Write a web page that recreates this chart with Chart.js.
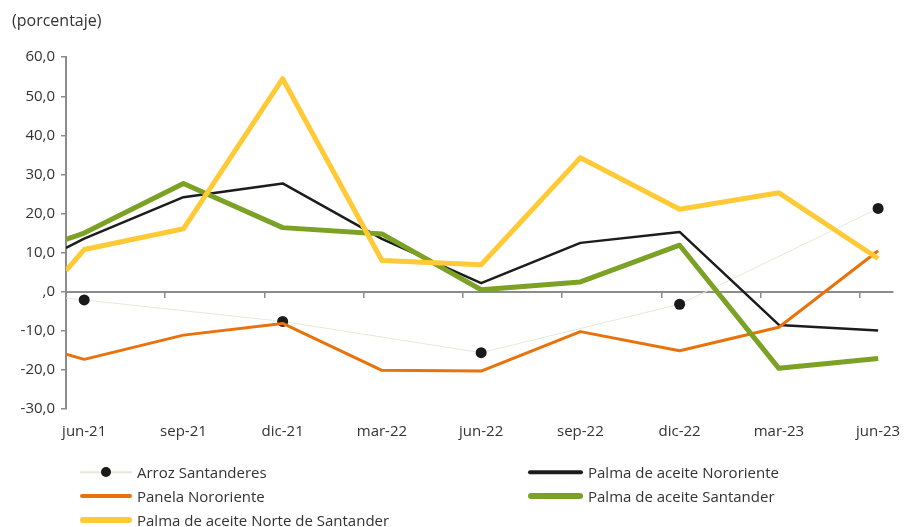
<!DOCTYPE html>
<html>
<head>
  <title>Precios - porcentaje</title>
  <script src="https://cdn.jsdelivr.net/npm/chart.js"></script>
  <style>
    body { margin: 0; background: #fff; font-family: 'Open Sans', sans-serif; }
    #wrap { position: relative; width: 904px; height: 527px; }
    #leyenda { position: absolute; left: 0; top: 0; width: 904px; height: 527px; pointer-events: none; }
    .item { position: absolute; display: flex; align-items: center; font-size: 15px; color: #333; height: 22px; white-space: nowrap; }
    .muestra { position: relative; margin-right: 5px; }
    .muestra .linea { position: absolute; left: 0; right: 0; top: 50%; transform: translateY(-50%); border-radius: 3px; }
    .muestra .punto { position: absolute; left: 50%; top: 50%; width: 10px; height: 10px; margin: -5px 0 0 -5px; border-radius: 50%; background: #1a1a1a; }
  </style>
</head>
<body>
  <div id="wrap">
    <canvas id="chart" width="904" height="527"></canvas>
    <div id="leyenda"></div>
  </div>

  <script>
    // meses contados desde jun-21 (el primer dato cae un poco antes)
    const meses = [-0.55, 0, 3, 6, 9, 12, 15, 18, 21, 24];
    const etiquetas = ['jun-21', 'sep-21', 'dic-21', 'mar-22', 'jun-22', 'sep-22', 'dic-22', 'mar-23', 'jun-23'];
    const posEtiquetas = [0, 3, 6, 9, 12, 15, 18, 21, 24];
    const posMarcas = [-0.55, 2.45, 5.45, 8.45, 11.45, 14.45, 17.45, 20.45, 23.45];

    const arrozSantanderes = [-1.6, -2.1, null, -7.6, null, -15.6, null, -3.2, null, 21.3];
    const palmaNororiente = [11.2, 13.6, 24.2, 27.7, 13.5, 2.2, 12.5, 15.3, -8.5, -9.9];
    const panelaNororiente = [-16.0, -17.3, -11.1, -8.1, -20.1, -20.3, -10.2, -15.1, -9.1, 10.5];
    const palmaSantander = [13.4, 15.0, 27.7, 16.4, 14.8, 0.5, 2.5, 11.9, -19.6, -17.1];
    const palmaNorteSantander = [5.4, 10.8, 16.1, 54.5, 8.0, 6.9, 34.3, 21.1, 25.3, 8.5];

    const xMin = -0.55, xMax = 24.45;
    const gris = '#8c8c8c';
    const texto = '#333333';

    const puntos = vals => vals.map((v, i) => ({ x: meses[i], y: v }));

    // las primeras series quedan encima
    const series = [
      { label: 'Palma de aceite Norte de Santander', data: puntos(palmaNorteSantander), color: '#FFCA35', width: 5 },
      { label: 'Palma de aceite Santander', data: puntos(palmaSantander), color: '#7BA125', width: 5 },
      { label: 'Panela Nororiente', data: puntos(panelaNororiente), color: '#E8720C', width: 3 },
      { label: 'Palma de aceite Nororiente', data: puntos(palmaNororiente), color: '#1c1c1c', width: 2.5 },
      { label: 'Arroz Santanderes', data: puntos(arrozSantanderes), color: '#E3EBD6', width: 1, dots: true }
    ];

    const datasets = series.map(s => ({
      label: s.label,
      data: s.data,
      borderColor: s.color,
      backgroundColor: s.dots ? '#1a1a1a' : s.color,
      borderWidth: s.width,
      tension: 0,
      fill: false,
      spanGaps: true,
      borderJoinStyle: 'round',
      pointRadius: s.dots ? (ctx => ctx.dataIndex === 0 ? 0 : 5.5) : 0,
      pointBorderWidth: 0,
      pointBackgroundColor: '#1a1a1a'
    }));

    const ctx = document.getElementById('chart').getContext('2d');
    new Chart(ctx, {
      type: 'line',
      data: { datasets },
      options: {
        responsive: false,
        animation: false,
        layout: { padding: { left: 12, right: 11, top: 0, bottom: 72 } },
        plugins: {
          legend: { display: false },
          tooltip: { enabled: false },
          title: {
            display: true,
            text: '(porcentaje)',
            align: 'start',
            color: texto,
            font: { family: 'Open Sans', size: 16, weight: 'normal' },
            padding: { top: 12, bottom: 26 }
          }
        },
        scales: {
          x: {
            type: 'linear',
            min: xMin,
            max: xMax,
            position: 'bottom',
            grid: { display: false, drawTicks: false, tickLength: 0 },
            border: { display: false },
            afterBuildTicks: scale => { scale.ticks = posEtiquetas.map(v => ({ value: v })); },
            afterFit: scale => { scale.paddingLeft = 0; scale.paddingRight = 0; },
            ticks: {
              autoSkip: false,
              maxRotation: 0,
              padding: 14,
              color: texto,
              font: { family: 'Open Sans', size: 15 },
              callback: (value, index) => etiquetas[index]
            }
          },
          xCero: {
            type: 'linear',
            axis: 'x',
            min: xMin,
            max: xMax,
            position: { y: 0 },
            afterBuildTicks: scale => { scale.ticks = posMarcas.map(v => ({ value: v })); },
            afterFit: scale => { scale.paddingLeft = 0; scale.paddingRight = 0; },
            grid: { drawOnChartArea: false, drawTicks: true, tickLength: 5, color: gris, lineWidth: 1.5 },
            border: { display: true, color: gris, width: 2 },
            ticks: { display: false }
          },
          y: {
            min: -30,
            max: 60,
            afterFit: scale => { scale.width = 54; },
            grid: { drawOnChartArea: false, drawTicks: true, tickLength: 5, color: gris, lineWidth: 1.5 },
            border: { display: true, color: gris, width: 2 },
            ticks: {
              stepSize: 10,
              padding: 6,
              color: texto,
              font: { family: 'Open Sans', size: 15 },
              callback: v => v === 0 ? ',0' : v.toFixed(1).replace('.', ',')
            }
          }
        }
      }
    });

    // leyenda en dos columnas, como en el original
    const columnas = [
      { muestraX: 80, muestraW: 52 },
      { muestraX: 528, muestraW: 55 }
    ];
    const filas = [472, 496, 520];
    const orden = ['Arroz Santanderes', 'Palma de aceite Nororiente', 'Panela Nororiente', 'Palma de aceite Santander', 'Palma de aceite Norte de Santander'];
    const leyenda = document.getElementById('leyenda');
    orden.forEach((nombre, i) => {
      const s = series.find(d => d.label === nombre);
      const col = columnas[i % 2];
      const item = document.createElement('div');
      item.className = 'item';
      item.style.left = col.muestraX + 'px';
      item.style.top = (filas[Math.floor(i / 2)] - 11) + 'px';
      const m = document.createElement('span');
      m.className = 'muestra';
      m.style.width = col.muestraW + 'px';
      m.style.height = '22px';
      const l = document.createElement('span');
      l.className = 'linea';
      l.style.background = s.color;
      l.style.height = (s.dots ? 1.5 : s.width + 1) + 'px';
      m.appendChild(l);
      if (s.dots) {
        const p = document.createElement('span');
        p.className = 'punto';
        m.appendChild(p);
      }
      item.appendChild(m);
      item.appendChild(document.createTextNode(nombre));
      leyenda.appendChild(item);
    });
  </script>
</body>
</html>
